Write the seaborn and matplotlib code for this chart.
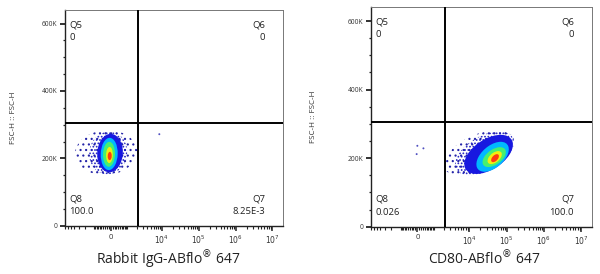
import numpy as np
import pandas as pd
import matplotlib
matplotlib.use("Agg")
import matplotlib.pyplot as plt
import matplotlib.transforms as mtransforms
from matplotlib.patches import Ellipse
import seaborn as sns

sns.set_theme(style="white")
plt.rcParams['font.family'] = ['Open Sans', 'DejaVu Sans']
plt.rcParams['mathtext.fontset'] = 'dejavusans'
plt.rcParams['hatch.linewidth'] = 0.8

# ---------------- data ----------------
LW = 816.0                      # asinh linear width of the biexponential axis
x_limits = (-7100, 1.94e7)
y_limits = (0, 640000)
gate_x = 2200
gate_y = 305000

x_major = [0, 1e4, 1e5, 1e6, 1e7]
x_major_labels = ['0', '$10^{4}$', '$10^{5}$', '$10^{6}$', '$10^{7}$']
y_major = [0, 200000, 400000, 600000]
y_major_labels = ['0', '200K', '400K', '600K']

x_labels = ['Rabbit IgG-ABflo$^{®}$ 647', 'CD80-ABflo$^{®}$ 647']
y_label = 'FSC-H :: FSC-H'

quad_names = ['Q5', 'Q6', 'Q7', 'Q8']
quad_values_igg = ['0', '0', '8.25E-3', '100.0']
quad_values_cd80 = ['0', '0', '100.0', '0.026']

# population density levels (outer sparse -> dense core)
# centre (intensity), centre FSC (K), half-width (asinh units), half-height (K)
igg_cx = [-240, -130, -36, -77, -87, -66, -51]
igg_cy = [217.5, 216.5, 216, 213.4, 212.5, 210.4, 207.4]
igg_hw = [1.94, 1.19, 0.80, 0.53, 0.375, 0.21, 0.125]
igg_hh = [66.6, 63.6, 57.0, 47.8, 37.0, 24.0, 12.3]
igg_rho = 0.05

cd80_cx = [18230, 25600, 33000, 42270, 46700, 48100, 49100]
cd80_cy = [214.7, 214.0, 211.0, 204.0, 203.0, 201.6, 200.0]
cd80_hw = [2.16, 1.81, 1.5, 1.0, 0.72, 0.44, 0.24]
cd80_hh = [67.0, 64.0, 57.0, 43.7, 29.0, 19.0, 11.7]
cd80_rho = 0.5

# isolated events
igg_out_x = [8500]
igg_out_y = [272000]
cd80_out_x = [0, 313, -35]
cd80_out_y = [236000, 228600, 211800]

level_colors = ['#2424a8', '#1c1cc0', '#1818e0', '#00b8ff', '#46f070', '#f2ee10', '#ff3a10']
level_hatch = ['...', '.....', None, None, None, None, None]

# ---------------- figure ----------------
fig = plt.figure(figsize=(6.0, 2.74), dpi=100)
ax1 = fig.add_axes([0.1083, 0.1752, 0.3633, 0.7883])
ax2 = fig.add_axes([0.6183, 0.1726, 0.3683, 0.8007])

minor_x = ([-v for v in range(1000, 8000, 1000)] + [-v for v in range(100, 1000, 100)]
           + list(range(100, 1000, 100)) + list(range(1000, 10000, 1000))
           + [m * 10 ** k for k in (4, 5, 6) for m in range(2, 10)])
minor_y = [50000, 100000, 150000, 250000, 300000, 350000, 450000, 500000, 550000]


def draw_population(ax, cx, cy, hw, hh, rho):
    frame = mtransforms.Affine2D().scale(LW, 1000) + ax.transLimits + ax.transAxes
    for i in range(len(cx)):
        c = np.array([[hw[i] ** 2, rho * hw[i] * hh[i]],
                      [rho * hw[i] * hh[i], hh[i] ** 2]])
        vals, vecs = np.linalg.eigh(c)
        ang = np.degrees(np.arctan2(vecs[1, 1], vecs[0, 1]))
        if level_hatch[i]:
            style = dict(facecolor='none', edgecolor=level_colors[i], linewidth=0,
                         hatch=level_hatch[i])
        else:
            style = dict(facecolor=level_colors[i], edgecolor='none')
        e = Ellipse((np.arcsinh(cx[i] / LW), cy[i]),
                    2 * np.sqrt(vals[1]), 2 * np.sqrt(vals[0]), angle=ang,
                    transform=frame, zorder=2 + i * 0.01, **style)
        ax.add_patch(e)


def setup(ax, xlabel, vals, cx, cy, hw, hh, rho, ox, oy, label_x, ylabel_x):
    ax.set_xscale('asinh', linear_width=LW)
    ax.set_xlim(*x_limits)
    ax.set_ylim(*y_limits)
    draw_population(ax, cx, cy, hw, hh, rho)
    sns.scatterplot(x=ox, y=oy, ax=ax, s=2, color='#5050c0', edgecolor='none',
                    zorder=3, legend=False)
    ax.axvline(gate_x, color='black', lw=1.4, zorder=5)
    ax.axhline(gate_y, color='black', lw=1.4, zorder=5)

    ax.set_xticks(x_major)
    ax.set_xticklabels(x_major_labels)
    ax.set_xticks([v for v in minor_x if x_limits[0] < v < x_limits[1]], minor=True)
    ax.set_yticks(y_major)
    ax.set_yticklabels(y_major_labels)
    ax.set_yticks(minor_y, minor=True)
    ax.tick_params(axis='x', which='major', length=3.5, width=1.1, labelsize=5.5,
                   pad=2, color='#222222', labelcolor='#333333', direction='out')
    ax.tick_params(axis='x', which='minor', length=2, width=0.8, color='#222222',
                   direction='out')
    ax.tick_params(axis='y', which='major', length=3.5, width=1.3, labelsize=4.8,
                   pad=2, color='#222222', labelcolor='#333333', direction='out')
    ax.tick_params(axis='y', which='minor', length=1.8, width=0.9, color='#222222',
                   direction='out')
    ax.tick_params(bottom=True, left=True, which='both')
    for side, sp in ax.spines.items():
        sp.set_color('#777777')
        sp.set_linewidth(0.7)
    ax.spines['bottom'].set_color('#222222')
    ax.spines['left'].set_color('#222222')
    ax.spines['bottom'].set_linewidth(1.0)
    ax.spines['left'].set_linewidth(1.0)

    ax.set_xlabel(xlabel, fontsize=10, color='#222222')
    ax.xaxis.set_label_coords(label_x, -0.105)
    ax.set_ylabel(y_label, fontsize=5.8, color='#333333')
    ax.yaxis.set_label_coords(ylabel_x, 0.5)

    tk = dict(transform=ax.transAxes, fontsize=6.8, color='#222222', va='center')
    ax.text(0.02, 0.931, quad_names[0], ha='left', **tk)
    ax.text(0.02, 0.874, vals[0], ha='left', **tk)
    ax.text(0.918, 0.931, quad_names[1], ha='right', **tk)
    ax.text(0.918, 0.874, vals[1], ha='right', **tk)
    ax.text(0.918, 0.125, quad_names[2], ha='right', **tk)
    ax.text(0.918, 0.066, vals[2], ha='right', **tk)
    ax.text(0.02, 0.125, quad_names[3], ha='left', **tk)
    ax.text(0.02, 0.066, vals[3], ha='left', **tk)


setup(ax1, x_labels[0], quad_values_igg, igg_cx, igg_cy, igg_hw, igg_hh, igg_rho,
      igg_out_x, igg_out_y, 0.476, -0.22)
setup(ax2, x_labels[1], quad_values_cd80, cd80_cx, cd80_cy, cd80_hw, cd80_hh, cd80_rho,
      cd80_out_x, cd80_out_y, 0.511, -0.244)

fig.savefig('out.png', dpi=100)
